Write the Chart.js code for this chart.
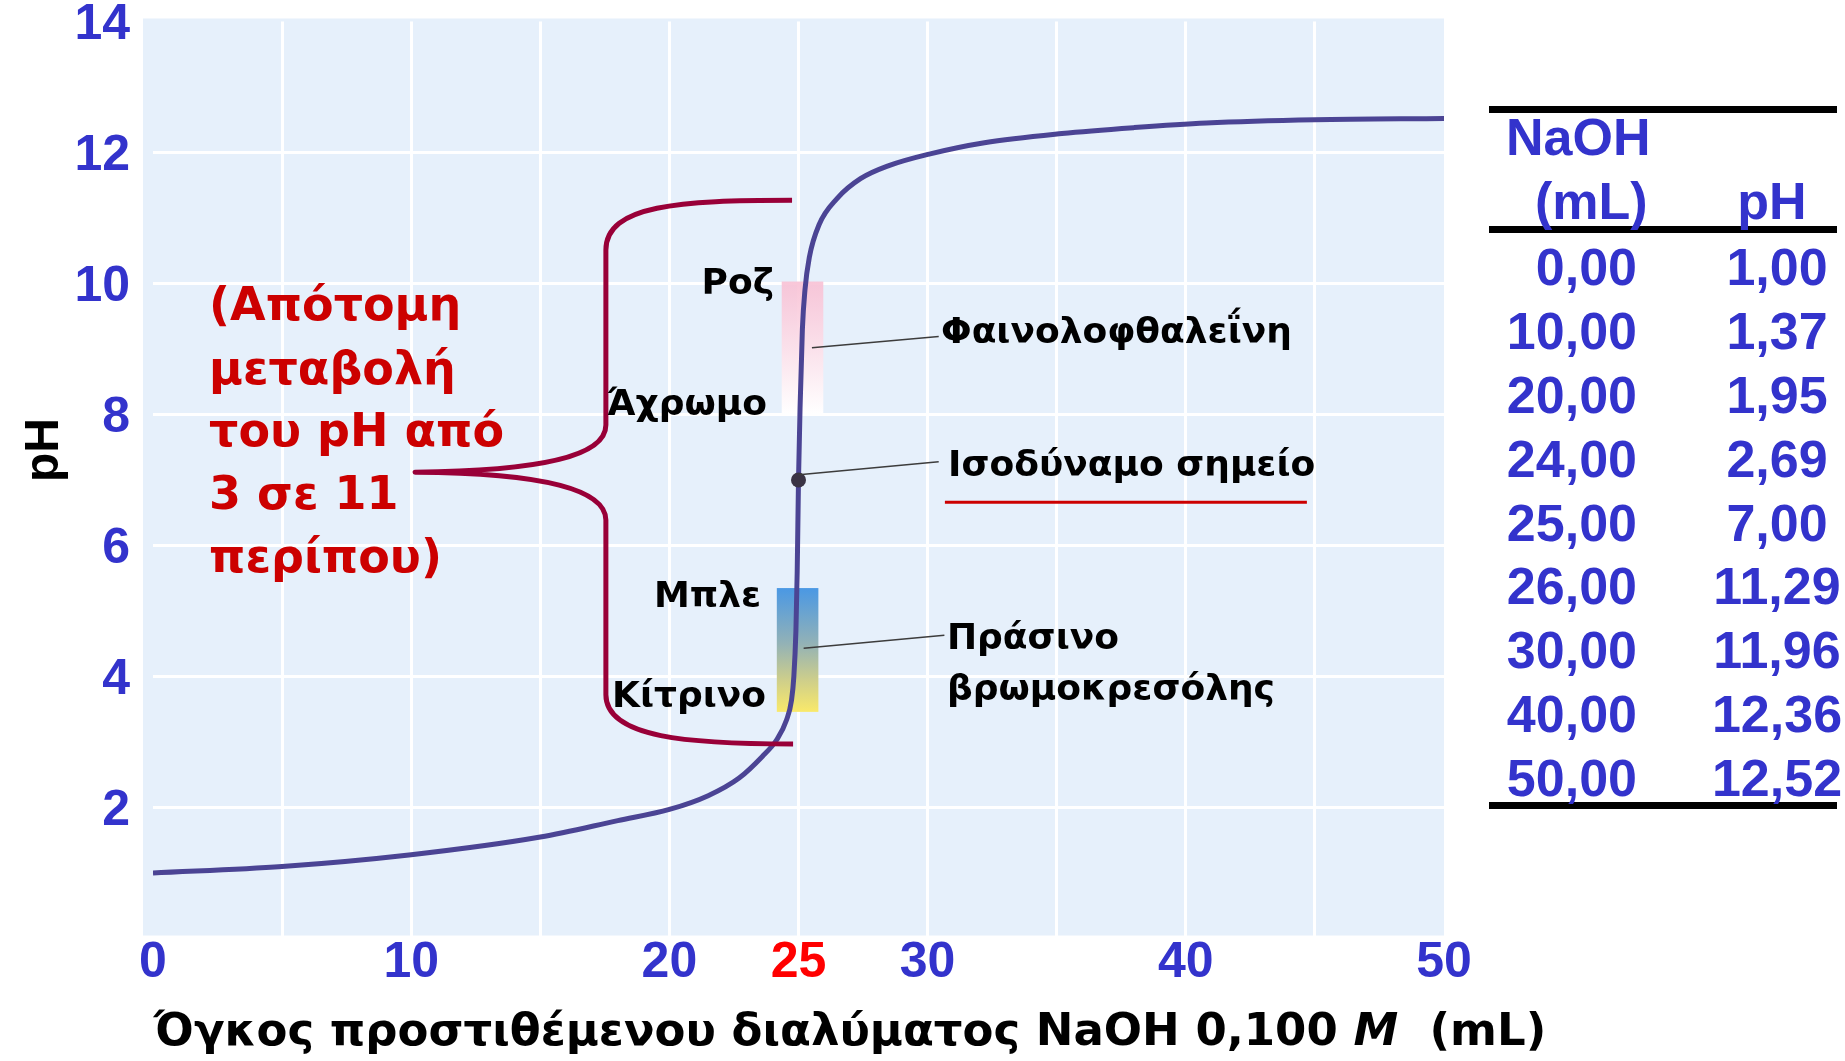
<!DOCTYPE html>
<html>
<head>
<meta charset="utf-8">
<script src="https://cdn.jsdelivr.net/npm/chart.js@4.4.0/dist/chart.umd.min.js"></script>
<style>
html, body { margin: 0; padding: 0; background: #fff; }
#wrap { position: relative; width: 1845px; height: 1061px; }
</style>
</head>
<body>
<div id="wrap"><canvas id="titrationChart" width="1845" height="1061"></canvas></div>
<script>
// titration curve (mL NaOH, pH)
var volume   = [0, 5, 10, 15, 18, 20, 21.5, 22.7, 23.6, 24.15, 24.54, 24.73, 24.82, 24.9, 24.95, 25.0, 25.06, 25.15, 25.25, 25.42, 25.8, 26.5, 27.4, 28.5, 30.1, 32.2, 35.2, 38, 40.8, 45, 50];
var phValues = [1.00, 1.10, 1.28, 1.55, 1.80, 1.97, 2.18, 2.45, 2.78, 3.03, 3.34, 3.64, 4.0, 4.7, 5.6, 7.0, 8.1, 9.3, 9.9, 10.4, 10.9, 11.3, 11.6, 11.8, 11.98, 12.15, 12.29, 12.38, 12.45, 12.50, 12.52];

// equivalence point
var eqVolume = [25.0];
var eqPH = [7.0];

// table on the right
var tableVolume = ['0,00', '10,00', '20,00', '24,00', '25,00', '26,00', '30,00', '40,00', '50,00'];
var tablePH     = ['1,00', '1,37', '1,95', '2,69', '7,00', '11,29', '11,96', '12,36', '12,52'];

// axis labels
var xLabelValues = [0, 10, 20, 25, 30, 40, 50];
var yLabelValues = [2, 4, 6, 8, 10, 12, 14];

var blue = '#3333cc';
var maroon = '#990038';

// indicator ranges, in data units
var phenolBand = { x0: 24.35, x1: 25.96, y0: 8.02, y1: 10.03 };
var bromoBand  = { x0: 24.16, x1: 25.77, y0: 3.46, y1: 5.35 };

function P(chart, x, y) {
    return [chart.scales.x.getPixelForValue(x), chart.scales.y.getPixelForValue(y)];
}

var bgPlugin = {
    id: 'plotBg',
    beforeDraw: function (chart) {
        var a = chart.chartArea, ctx = chart.ctx;
        ctx.save();
        ctx.fillStyle = '#e6f0fb';
        ctx.fillRect(a.left - 10, a.top - 3, a.right - a.left + 10, a.bottom - a.top);
        ctx.restore();
    },
    beforeDatasetsDraw: function (chart) {
        var ctx = chart.ctx;
        // phenolphthalein band
        var p0 = P(chart, phenolBand.x0, phenolBand.y1), p1 = P(chart, phenolBand.x1, phenolBand.y0);
        var g = ctx.createLinearGradient(0, p0[1], 0, p1[1]);
        g.addColorStop(0, 'rgba(248,192,212,0.9)');
        g.addColorStop(1, 'rgba(255,255,255,1)');
        ctx.fillStyle = g;
        ctx.fillRect(p0[0], p0[1], p1[0] - p0[0], p1[1] - p0[1]);
        // bromocresol green band
        var b0 = P(chart, bromoBand.x0, bromoBand.y1), b1 = P(chart, bromoBand.x1, bromoBand.y0);
        var g2 = ctx.createLinearGradient(0, b0[1], 0, b1[1]);
        g2.addColorStop(0, '#4a98e4');
        g2.addColorStop(0.45, '#93b2b6');
        g2.addColorStop(0.75, '#cfcf8a');
        g2.addColorStop(1, '#f9e96a');
        ctx.fillStyle = g2;
        ctx.fillRect(b0[0], b0[1], b1[0] - b0[0], b1[1] - b0[1]);
    }
};

var notesPlugin = {
    id: 'notes',
    afterDatasetsDraw: function (chart) {
        var ctx = chart.ctx;
        ctx.save();

        // curly bracket
        ctx.strokeStyle = maroon;
        ctx.lineWidth = 5;
        ctx.lineJoin = 'round';
        ctx.beginPath();
        var m = P(chart, 24.75, 11.27); ctx.moveTo(m[0], m[1]);
        var c1 = P(chart, 20.41, 11.27), c2 = P(chart, 17.54, 11.2), e = P(chart, 17.54, 10.51);
        ctx.bezierCurveTo(c1[0], c1[1], c2[0], c2[1], e[0], e[1]);
        e = P(chart, 17.54, 7.84); ctx.lineTo(e[0], e[1]);
        c1 = P(chart, 17.54, 7.38); c2 = P(chart, 15.18, 7.14); e = P(chart, 10.15, 7.12);
        ctx.bezierCurveTo(c1[0], c1[1], c2[0], c2[1], e[0], e[1]);
        c1 = P(chart, 15.18, 7.11); c2 = P(chart, 17.54, 6.85); e = P(chart, 17.54, 6.39);
        ctx.bezierCurveTo(c1[0], c1[1], c2[0], c2[1], e[0], e[1]);
        e = P(chart, 17.54, 3.72); ctx.lineTo(e[0], e[1]);
        c1 = P(chart, 17.54, 3.06); c2 = P(chart, 20.8, 2.97); e = P(chart, 24.79, 2.97);
        ctx.bezierCurveTo(c1[0], c1[1], c2[0], c2[1], e[0], e[1]);
        ctx.stroke();

        // leader lines
        ctx.strokeStyle = '#3c3c3c';
        ctx.lineWidth = 1.5;
        [[25.52, 9.02, 30.43, 9.19], [25.02, 7.08, 30.43, 7.28], [25.2, 4.43, 30.65, 4.63]].forEach(function (l) {
            var a = P(chart, l[0], l[1]), b = P(chart, l[2], l[3]);
            ctx.beginPath(); ctx.moveTo(a[0], a[1]); ctx.lineTo(b[0], b[1]); ctx.stroke();
        });

        // red underline under equivalence point
        var u0 = P(chart, 30.67, 6.66), u1 = P(chart, 44.69, 6.66);
        ctx.strokeStyle = '#cc0000';
        ctx.lineWidth = 3;
        ctx.beginPath(); ctx.moveTo(u0[0], u0[1]); ctx.lineTo(u1[0], u1[1]); ctx.stroke();

        // black labels
        ctx.fillStyle = '#000';
        ctx.font = 'bold 36px "DejaVu Sans"';
        ctx.textBaseline = 'middle';
        ctx.textAlign = 'right';
        [['Ροζ', 24.05, 9.99], ['Άχρωμο', 23.78, 8.13], ['Μπλε', 23.55, 5.21], ['Κίτρινο', 23.74, 3.67]].forEach(function (t) {
            var p = P(chart, t[1], t[2]); ctx.fillText(t[0], p[0], p[1]);
        });
        ctx.textAlign = 'left';
        [['Φαινολοφθαλεΐνη', 30.52, 9.24], ['Ισοδύναμο σημείο', 30.79, 7.2], ['Πράσινο', 30.75, 4.57], ['βρωμοκρεσόλης', 30.75, 3.79]].forEach(function (t) {
            var p = P(chart, t[1], t[2]); ctx.fillText(t[0], p[0], p[1]);
        });

        // red note
        ctx.fillStyle = '#cc0000';
        ctx.font = 'bold 46px "DejaVu Sans"';
        [['(Απότομη', 9.63], ['μεταβολή', 8.65], ['του pH από', 7.70], ['3 σε 11', 6.74], ['περίπου)', 5.78]].forEach(function (t) {
            var p = P(chart, 2.17, t[1]); ctx.fillText(t[0], p[0], p[1]);
        });
        ctx.restore();
    },
    afterDraw: function (chart) {
        var ctx = chart.ctx;
        ctx.save();
        ctx.textBaseline = 'middle';

        // x axis title with italic M
        var parts = [['Όγκος προστιθέμενου διαλύματος NaOH 0,100 ', 'bold 45px "DejaVu Sans"'], ['M', 'italic bold 45px "DejaVu Sans"'], ['  (mL)', 'bold 45px "DejaVu Sans"']];
        var total = 0;
        parts.forEach(function (p) { ctx.font = p[1]; total += ctx.measureText(p[0]).width; });
        var x = 850 - total / 2;
        ctx.fillStyle = '#000';
        ctx.textAlign = 'left';
        parts.forEach(function (p) { ctx.font = p[1]; ctx.fillText(p[0], x, 1033); x += ctx.measureText(p[0]).width; });

        // y axis title
        ctx.save();
        ctx.translate(45, 450);
        ctx.rotate(-Math.PI / 2);
        ctx.textAlign = 'center';
        ctx.font = 'bold 48px "Liberation Sans"';
        ctx.fillText('pH', 0, 0);
        ctx.restore();

        // table
        ctx.fillStyle = '#000';
        ctx.fillRect(1489, 106, 348, 7);
        ctx.fillRect(1489, 226, 348, 7);
        ctx.fillRect(1489, 802, 348, 7);
        ctx.fillStyle = blue;
        ctx.font = 'bold 52px "Liberation Sans"';
        ctx.textAlign = 'left';
        ctx.fillText('NaOH', 1506, 141);
        ctx.fillText('(mL)', 1535, 205);
        ctx.textAlign = 'center';
        ctx.fillText('pH', 1772, 205);
        for (var i = 0; i < tableVolume.length; i++) {
            var y = 271 + i * 63.8;
            ctx.textAlign = 'right';
            ctx.fillText(tableVolume[i], 1637, y);
            ctx.textAlign = 'center';
            ctx.fillText(tablePH[i], 1777, y);
        }
        ctx.restore();
    }
};

var ctx = document.getElementById('titrationChart').getContext('2d');

var titrationChart = new Chart(ctx, {
    type: 'line',
    data: {
        datasets: [{
            label: 'Ισοδύναμο σημείο',
            type: 'scatter',
            data: eqVolume.map(function (v, i) { return { x: v, y: eqPH[i] }; }),
            pointRadius: 7.5,
            backgroundColor: '#3a3344',
            borderWidth: 0
        }, {
            label: 'pH',
            data: volume.map(function (v, i) { return { x: v, y: phValues[i] }; }),
            borderColor: '#4b4494',
            borderWidth: 5,
            pointRadius: 0,
            fill: false,
            cubicInterpolationMode: 'monotone'
        }]
    },
    options: {
        responsive: false,
        devicePixelRatio: 1,
        animation: false,
        layout: { padding: { top: 21.5, right: 401, bottom: 0, left: 0 } },
        plugins: { legend: { display: false }, tooltip: { enabled: false } },
        scales: {
            x: {
                type: 'linear',
                min: 0,
                max: 50,
                border: { display: false },
                grid: {
                    drawTicks: false,
                    lineWidth: 3,
                    color: function (c) { return (c.tick && (c.tick.value === 0 || c.tick.value === 50)) ? 'rgba(0,0,0,0)' : '#ffffff'; }
                },
                ticks: {
                    stepSize: 5,
                    autoSkip: false,
                    maxRotation: 0,
                    padding: 0,
                    font: { family: '"Liberation Sans"', size: 50, weight: 'bold', lineHeight: 1 },
                    color: function (c) { return c.tick && c.tick.value === 25 ? '#ff0000' : blue; },
                    callback: function (v) { return xLabelValues.indexOf(v) >= 0 ? String(v) : ''; }
                },
                afterFit: function (s) { s.height = 122.5; s.paddingLeft = 0; s.paddingRight = 0; }
            },
            y: {
                min: 0,
                max: 14,
                border: { display: false },
                grid: {
                    drawTicks: false,
                    lineWidth: 3,
                    color: function (c) { return (c.tick && (c.tick.value === 0 || c.tick.value === 14)) ? 'rgba(0,0,0,0)' : '#ffffff'; }
                },
                ticks: {
                    stepSize: 2,
                    padding: 23,
                    labelOffset: 4,
                    font: { family: '"Liberation Sans"', size: 50, weight: 'bold', lineHeight: 1 },
                    color: blue,
                    callback: function (v) { return yLabelValues.indexOf(v) >= 0 ? String(v) : ''; }
                },
                afterFit: function (s) { s.width = 153; s.paddingTop = 0; s.paddingBottom = 0; }
            }
        }
    },
    plugins: [bgPlugin, notesPlugin]
});
</script>
</body>
</html>
